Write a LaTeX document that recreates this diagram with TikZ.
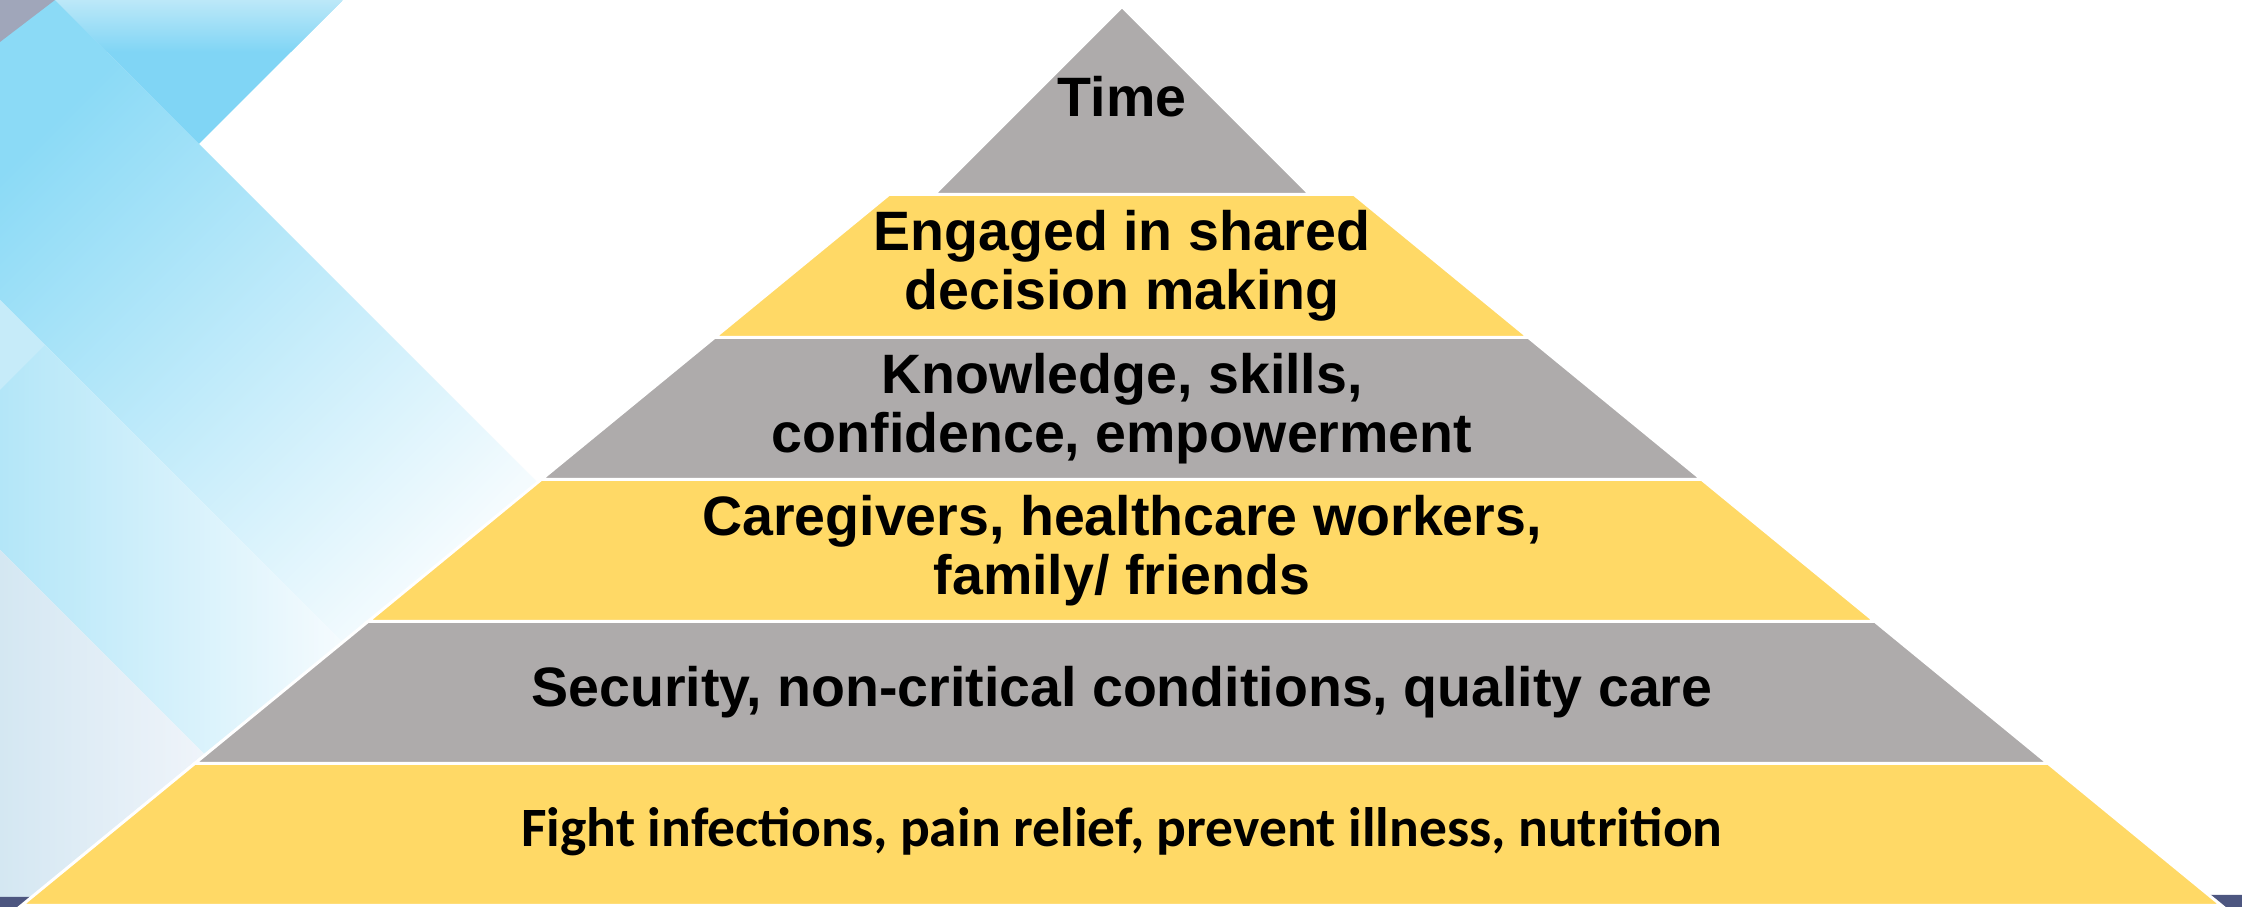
\documentclass[tikz,border=0pt]{standalone}
\usepackage{fontspec}
\setmainfont{Liberation Sans}
\newfontfamily\calibri{Carlito}

\definecolor{tiergold}{HTML}{FFD966}
\definecolor{tiergray}{HTML}{AEABAB}
\definecolor{skydeep}{HTML}{80D5F5}
\definecolor{skytop}{HTML}{BCE8F8}
\definecolor{skyband}{HTML}{8BDAF6}
\definecolor{skyfade}{HTML}{F4FBFE}
\definecolor{skylow}{HTML}{B3E6F8}
\definecolor{skylowfade}{HTML}{F5FBFE}
\definecolor{skywedge}{HTML}{C6EBF9}
\definecolor{mistleft}{HTML}{D4E7F2}
\definecolor{mistright}{HTML}{EFF4FA}
\definecolor{cornergray}{HTML}{A0A6BA}
\definecolor{footslate}{HTML}{4D5680}

\begin{document}
\begin{tikzpicture}[
  tier/.style={draw=white,line width=0.85pt},
  tiertext/.style={font=\bfseries\fontsize{15.8}{16.8}\selectfont,align=center,inner sep=0pt}
]

\fill[white] (0,0) rectangle (22.42,9.07);
\useasboundingbox (0,0) rectangle (22.42,9.07);

% backdrop stripes on the left
\shade[top color=skyband,bottom color=skyfade,shading angle=45] (0,9.07) -- (0.55,9.07) -- (5.37,4.25) -- (3.42,2.65) -- (0,6.07) -- cycle;

\begin{scope}
  \clip (0.55,9.07) -- (3.43,9.07) -- (1.99,7.63) -- cycle;
  \fill[skydeep] (0.55,7.6) rectangle (3.43,9.07);
  \shade[top color=skytop,bottom color=skydeep] (0.55,8.55) rectangle (3.43,9.07);
\end{scope}

\shade[left color=skylow,right color=skylowfade] (0,6.07) -- (3.42,2.65) -- (2.04,1.53) -- (0,3.57) -- cycle;
\fill[skywedge] (0,6.07) -- (0.45,5.62) -- (0,5.17) -- cycle;
\shade[left color=mistleft,right color=mistright] (0,3.57) -- (2.04,1.53) -- (0.18,0) -- (0,0) -- cycle;

\fill[cornergray] (0,9.07) -- (0.55,9.07) -- (0,8.65) -- cycle;

\fill[footslate] (0,0) -- (0.25,0) -- (0.35,0.10) -- (0,0.10) -- cycle;
\fill[footslate] (22.15,0) -- (22.42,0) -- (22.42,0.12) -- (22.05,0.12) -- cycle;

% pyramid tiers, bottom to top
\fill[tier,fill=tiergold] (0.215,0.015) -- (22.215,0.015) -- (20.483,1.435) -- (1.947,1.435) -- cycle;
\fill[tier,fill=tiergray] (1.947,1.435) -- (20.483,1.435) -- (18.750,2.855) -- (3.680,2.855) -- cycle;
\fill[tier,fill=tiergold] (3.680,2.855) -- (18.750,2.855) -- (17.018,4.275) -- (5.412,4.275) -- cycle;
\fill[tier,fill=tiergray] (5.412,4.275) -- (17.018,4.275) -- (15.285,5.695) -- (7.145,5.695) -- cycle;
\fill[tier,fill=tiergold] (7.145,5.695) -- (15.285,5.695) -- (13.541,7.125) -- (8.889,7.125) -- cycle;
\fill[tier,fill=tiergray] (9.34,7.125) -- (13.10,7.125) -- (11.22,9.005) -- cycle;

\node[tiertext] (time) at (11.22,8.10) {Time};
\node[tiertext] (engaged) at (11.22,6.41) {Engaged in shared\\decision making};
\node[tiertext] (knowledge) at (11.22,4.985) {Knowledge, skills,\\confidence, empowerment};
\node[tiertext] (caregivers) at (11.22,3.565) {Caregivers, healthcare workers,\\family/ friends};
\node[tiertext] (security) at (11.22,2.145) {Security, non-critical conditions, quality care};
\node[tiertext,font=\calibri\bfseries\fontsize{15.8}{16.8}\selectfont] (fight) at (11.22,0.75) {Fight infections, pain relief, prevent illness, nutrition};
\end{tikzpicture}
\end{document}
